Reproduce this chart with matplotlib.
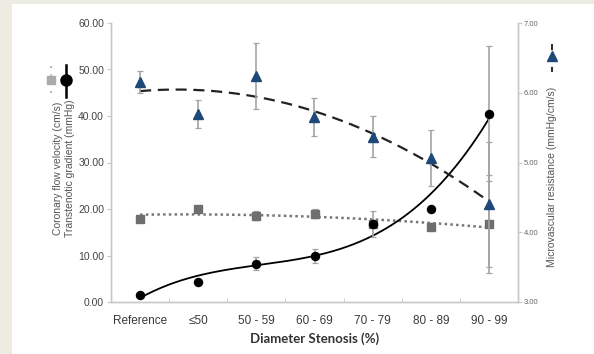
import matplotlib
matplotlib.use("Agg")
import matplotlib.pyplot as plt
import numpy as np
from matplotlib.lines import Line2D
from matplotlib.patches import Rectangle

# data
categories = ["Reference", "\u226450", "50 - 59", "60 - 69", "70 - 79", "80 - 89", "90 - 99"]
gradient = [1.5, 4.3, 8.2, 9.9, 16.8, 20.1, 40.5]        # mmHg, left axis
gradient_err = [0, 0, 1.4, 1.6, 2.8, 0, 14.5]
velocity = [17.9, 20.1, 18.6, 19.0, 16.8, 16.2, 16.8]     # cm/s, left axis
velocity_err = [0, 0, 1.0, 1.0, 0, 0.8, 10.5]
resistance = [6.15, 5.70, 6.24, 5.65, 5.37, 5.07, 4.40]  # mmHg/cm/s, right axis
resistance_err = [0.16, 0.20, 0.48, 0.27, 0.29, 0.40, 0.90]

x = np.arange(1, len(categories) + 1)
xs = np.linspace(1, len(categories), 200)

plt.rcParams['font.family'] = ['Liberation Sans', 'DejaVu Sans']
fig = plt.figure(figsize=(5.94, 3.54), dpi=100)
fig.patch.set_facecolor("#ECECE2")
fig.add_artist(Rectangle((12 / 594, 0), 1, 1 - 4 / 354, transform=fig.transFigure,
                         facecolor="white", edgecolor="none", zorder=0))

ax = fig.add_axes([111 / 594, 52 / 354, 407 / 594, 279 / 354])
ax.set_facecolor("none")
ax2 = ax.twinx()

err_kw = dict(ecolor="#A4A4A4", elinewidth=1.2, capsize=2.2, capthick=0.9, ls="none")

# trend lines
ax.plot(xs, np.polyval(np.polyfit(x, velocity, 2), xs), color="#777777", ls=(0, (1, 1.3)), lw=1.8, zorder=3)
ax.plot(xs, np.polyval(np.polyfit(x, gradient, 3), xs), color="black", lw=1.3, zorder=4)
ax2.plot(xs, np.polyval(np.polyfit(x, resistance, 2), xs), color="#222222", ls=(0, (5, 3)), lw=1.6, zorder=3)

ax.errorbar(x, velocity, yerr=velocity_err, marker="s", ms=5.5, mfc="#6E6E6E", mec="#6E6E6E", zorder=5, **err_kw)
ax.errorbar(x, gradient, yerr=gradient_err, marker="o", ms=5.8, mfc="black", mec="black", zorder=6, **err_kw)
ax2.errorbar(x, resistance, yerr=resistance_err, marker="^", ms=6.5, mfc="#1D4877", mec="#1D4877", zorder=5, **err_kw)

ax.set_xlim(0.5, len(categories) + 0.5)
ax.set_ylim(0, 60)
ax2.set_ylim(3, 7)
ax.set_yticks(np.arange(0, 61, 10))
ax.set_yticklabels([f"{v:.2f}" for v in np.arange(0, 61, 10)])
ax2.set_yticks(np.arange(3, 7.1, 1))
ax2.set_yticklabels([f"{v:.2f}" for v in np.arange(3, 7.1, 1)])

ax.set_xticks(x)
ax.set_xticklabels(categories)
ax.set_xticks(np.arange(0.5, len(categories) + 1, 1), minor=True)
ax.tick_params(axis="x", which="major", length=0, pad=9, labelsize=8.5, labelcolor="#3A3A3A")
ax.tick_params(axis="x", which="minor", length=3, color="#C8C8C8", direction="in")
ax.tick_params(axis="y", length=3, color="#C8C8C8", labelsize=7.5, labelcolor="#444444", pad=2)
ax2.tick_params(axis="y", length=3, color="#C8C8C8", labelsize=5.5, labelcolor="#666666", pad=1)

for a in (ax, ax2):
    for name, sp in a.spines.items():
        sp.set_color("#C8C8C8")
        sp.set_linewidth(1)
    a.spines["top"].set_visible(False)

ax.set_xlabel("Diameter Stenosis (%)", fontsize=9.5, fontweight="bold", family="Lato",
              color="#333333", labelpad=4)

# axis labels with legend symbols, as in the reference
fig.text(58 / 594, 1 - 168 / 354, "Coronary flow velocity (cm/s)", rotation=90,
         ha="center", va="center", fontsize=7.5, color="#555555")
fig.text(70 / 594, 1 - 168 / 354, "Transtenotic gradient (mmHg)", rotation=90,
         ha="center", va="center", fontsize=7.5, color="#555555")
fig.text(552 / 594, 1 - 177 / 354, "Microvascular resistance (mmHg/cm/s)", rotation=90,
         ha="center", va="center", fontsize=7.5, color="#555555")

def fy(p):
    return 1 - p / 354

def fx(p):
    return p / 594

fig.add_artist(Line2D([fx(51), fx(51)], [fy(66), fy(93)], color="#BBBBBB", ls=(0, (1, 3)), lw=1.5))
fig.add_artist(Line2D([fx(51)], [fy(80)], marker="s", ms=6, color="#AAAAAA", ls="none"))
fig.add_artist(Line2D([fx(66), fx(66)], [fy(65), fy(97)], color="black", lw=1.8))
fig.add_artist(Line2D([fx(66)], [fy(80)], marker="o", ms=8, color="black", ls="none"))
fig.add_artist(Line2D([fx(552), fx(552)], [fy(44), fy(72)], color="#333333", ls=(0, (3, 2.5)), lw=1.5))
fig.add_artist(Line2D([fx(552)], [fy(56)], marker="^", ms=7, color="#1D4877", ls="none"))

fig.savefig("out.png", dpi=100, facecolor=fig.get_facecolor())
